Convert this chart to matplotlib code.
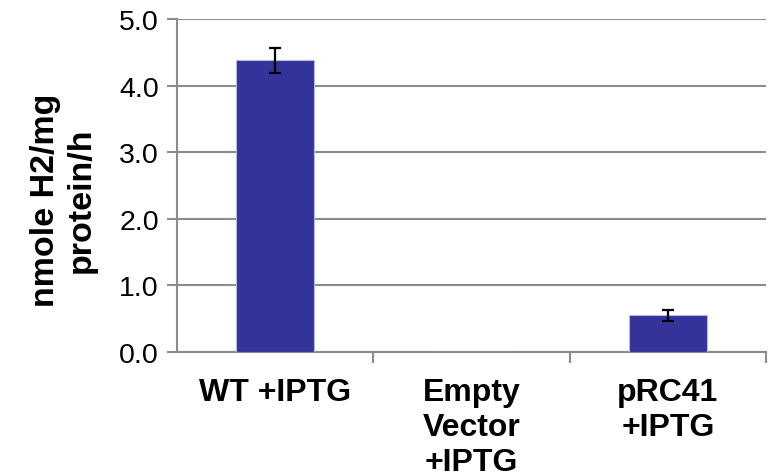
import matplotlib
matplotlib.use("Agg")
import matplotlib.pyplot as plt
from matplotlib.ticker import FixedLocator, FormatStrFormatter

categories = ["WT +IPTG", "Empty\nVector\n+IPTG", "pRC41\n+IPTG"]
values = [4.38, 0.0, 0.55]
errors = [0.19, 0.0, 0.08]
y_ticks = [0.0, 1.0, 2.0, 3.0, 4.0, 5.0]
y_label = "nmole H2/mg\nprotein/h"

plt.rcParams["font.family"] = ["Liberation Sans", "DejaVu Sans"]

fig = plt.figure(figsize=(7.69, 4.77), dpi=100)
ax = fig.add_axes([177 / 769, 124 / 477, 589 / 769, 333 / 477])

grid_color = "#8c8c8c"
x = list(range(len(categories)))
err_x = [i for i, e in zip(x, errors) if e > 0]
err_v = [v for v, e in zip(values, errors) if e > 0]
err_e = [e for e in errors if e > 0]

ax.bar(x, values, width=0.4, color="#333399", edgecolor="#b7b7e0",
       linewidth=0.8, zorder=3)
ax.errorbar(err_x, err_v, yerr=err_e, fmt="none", ecolor="black",
            elinewidth=1.6, capsize=4.5, capthick=1.6, zorder=4)

ax.set_xlim(-0.5, 2.5)
ax.set_ylim(0, 5.0)
ax.set_yticks(y_ticks)
ax.yaxis.set_major_formatter(FormatStrFormatter("%.1f"))
ax.yaxis.grid(True, color=grid_color, linewidth=1.5, zorder=0)
ax.set_axisbelow(True)

ax.set_xticks(x)
ax.set_xticklabels(categories, fontsize=23, fontweight="bold", linespacing=1.22)
ax.tick_params(axis="x", which="major", length=0, pad=18)
ax.xaxis.set_minor_locator(FixedLocator([0.5, 1.5, 2.5]))
ax.tick_params(axis="x", which="minor", length=8, width=1.5, color=grid_color)
ax.tick_params(axis="y", labelsize=20.5, length=7, width=1.5, color=grid_color, pad=6)

for side in ("top", "right"):
    ax.spines[side].set_visible(False)
for side in ("left", "bottom"):
    ax.spines[side].set_color(grid_color)
    ax.spines[side].set_linewidth(1.5)

fig.text(63 / 769, 1 - 200 / 477, y_label, rotation=90, ha="center",
         va="center", multialignment="center", fontsize=24.5,
         fontweight="bold", linespacing=1.2)

fig.savefig("out.png", dpi=100)
